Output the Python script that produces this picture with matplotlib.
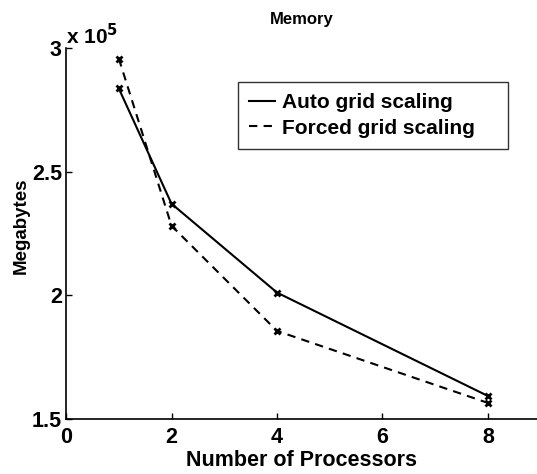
# memory usage vs processors, MATLAB-style line plot
import matplotlib
matplotlib.use('Agg')
import matplotlib.pyplot as plt
from matplotlib.ticker import FuncFormatter

plt.rc('font', family='Liberation Sans', size=15.5, weight='bold')
plt.rc('axes', titleweight='bold', labelweight='bold')
plt.rc('mathtext', default='bf')

# data
procs = [1, 2, 4, 8]
auto_mem = [2.836e5, 2.370e5, 2.011e5, 1.593e5]
forced_mem = [2.957e5, 2.281e5, 1.856e5, 1.565e5]

x_ticks = [0, 2, 4, 6, 8]
y_ticks = [1.5e5, 2.0e5, 2.5e5, 3.0e5]

fig = plt.figure(figsize=(5.37, 4.74), dpi=100)
ax = fig.add_axes([0.123, 0.116, 0.877, 0.783])

ax.plot(procs, auto_mem, '-', color='black', linewidth=1.5,
        marker='x', markersize=5, markeredgewidth=2, label='Auto grid scaling')
ax.plot(procs, forced_mem, '--', color='black', linewidth=1.5, dashes=(4, 3),
        marker='x', markersize=5, markeredgewidth=2, label='Forced grid scaling')

ax.set_xlim(0, 8.93)
ax.set_ylim(1.5e5, 3.0e5)
ax.set_xticks(x_ticks)
ax.set_yticks(y_ticks)
ax.yaxis.set_major_formatter(FuncFormatter(lambda v, p: f'{v / 1e5:g}'))
ax.tick_params(direction='in', length=4, width=1, labelsize=15.5)
ax.tick_params(axis='x', pad=6)
ax.tick_params(axis='y', pad=3)

for side in ['top', 'right']:
    ax.spines[side].set_visible(False)
for side in ['left', 'bottom']:
    ax.spines[side].set_linewidth(1.2)

ax.text(0.0, 1.0, r'x 10$^{5}$', transform=ax.transAxes, fontsize=15,
        ha='left', va='bottom')

ax.set_title('Memory', fontsize=12, pad=17)
ax.set_xlabel('Number of Processors', labelpad=1)
ax.set_ylabel('Megabytes', fontsize=13.5)
ax.yaxis.set_label_coords(-0.078, 0.52)

leg = ax.legend(loc='upper left', bbox_to_anchor=(0.365, 0.908, 0.573, 0.0),
                mode='expand', frameon=True,
                fancybox=False, edgecolor='black', handlelength=1.25,
                handletextpad=0.3, borderpad=0.55, labelspacing=0.3,
                borderaxespad=0, prop={'size': 15, 'weight': 'bold'})
leg.get_frame().set_linewidth(1.0)
for h in leg.legend_handles:
    h.set_marker('')

fig.savefig('out.png', dpi=100)
